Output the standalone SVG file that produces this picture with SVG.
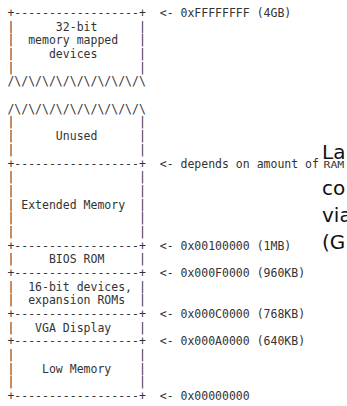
<svg xmlns="http://www.w3.org/2000/svg" width="347" height="406" viewBox="0 0 347 406">
<style>
.m{font-family:"DejaVu Sans Mono","Liberation Mono",monospace;font-size:11.5px;fill:#333;white-space:pre}
.big{font-family:"DejaVu Sans","Liberation Sans",sans-serif;font-size:20px;fill:#111}
</style>
<rect width="347" height="406" fill="#fff"/>
<g id="memory-map" class="m">
<text xml:space="preserve" x="7.4" y="17">+------------------+  &lt;- 0xFFFFFFFF (4GB)</text>
<text xml:space="preserve" x="7.4" y="30.7">|      32-bit      |</text>
<text xml:space="preserve" x="7.4" y="44.4">|  memory mapped   |</text>
<text xml:space="preserve" x="7.4" y="58.0">|     devices      |</text>
<text xml:space="preserve" x="7.4" y="71.7">|                  |</text>
<text xml:space="preserve" x="7.4" y="85.4">/\/\/\/\/\/\/\/\/\/\</text>
<text xml:space="preserve" x="7.4" y="112.8">/\/\/\/\/\/\/\/\/\/\</text>
<text xml:space="preserve" x="7.4" y="126.4">|                  |</text>
<text xml:space="preserve" x="7.4" y="140.1">|      Unused      |</text>
<text xml:space="preserve" x="7.4" y="153.8">|                  |</text>
<text xml:space="preserve" x="7.4" y="167.5">+------------------+  &lt;- depends on amount of </text>
<text xml:space="preserve" x="7.4" y="181.2">|                  |</text>
<text xml:space="preserve" x="7.4" y="194.8">|                  |</text>
<text xml:space="preserve" x="7.4" y="208.5">| Extended Memory  |</text>
<text xml:space="preserve" x="7.4" y="222.2">|                  |</text>
<text xml:space="preserve" x="7.4" y="235.9">|                  |</text>
<text xml:space="preserve" x="7.4" y="249.6">+------------------+  &lt;- 0x00100000 (1MB)</text>
<text xml:space="preserve" x="7.4" y="263.2">|     BIOS ROM     |</text>
<text xml:space="preserve" x="7.4" y="276.9">+------------------+  &lt;- 0x000F0000 (960KB)</text>
<text xml:space="preserve" x="7.4" y="290.6">|  16-bit devices, |</text>
<text xml:space="preserve" x="7.4" y="304.3">|  expansion ROMs  |</text>
<text xml:space="preserve" x="7.4" y="318.0">+------------------+  &lt;- 0x000C0000 (768KB)</text>
<text xml:space="preserve" x="7.4" y="331.6">|   VGA Display    |</text>
<text xml:space="preserve" x="7.4" y="345.3">+------------------+  &lt;- 0x000A0000 (640KB)</text>
<text xml:space="preserve" x="7.4" y="359.0">|                  |</text>
<text xml:space="preserve" x="7.4" y="372.7">|    Low Memory    |</text>
<text xml:space="preserve" x="7.4" y="386.4">|                  |</text>
<text xml:space="preserve" x="7.4" y="400.0">+------------------+  &lt;- 0x00000000</text>
<text transform="translate(323.5,167.5) scale(1,0.72)">RAM</text>
</g>
<g id="note" class="big">
<text x="322" y="159">La</text>
<text x="322" y="195">co</text>
<text x="322" y="222">via</text>
<text x="322" y="249">(G</text>
</g>
</svg>
